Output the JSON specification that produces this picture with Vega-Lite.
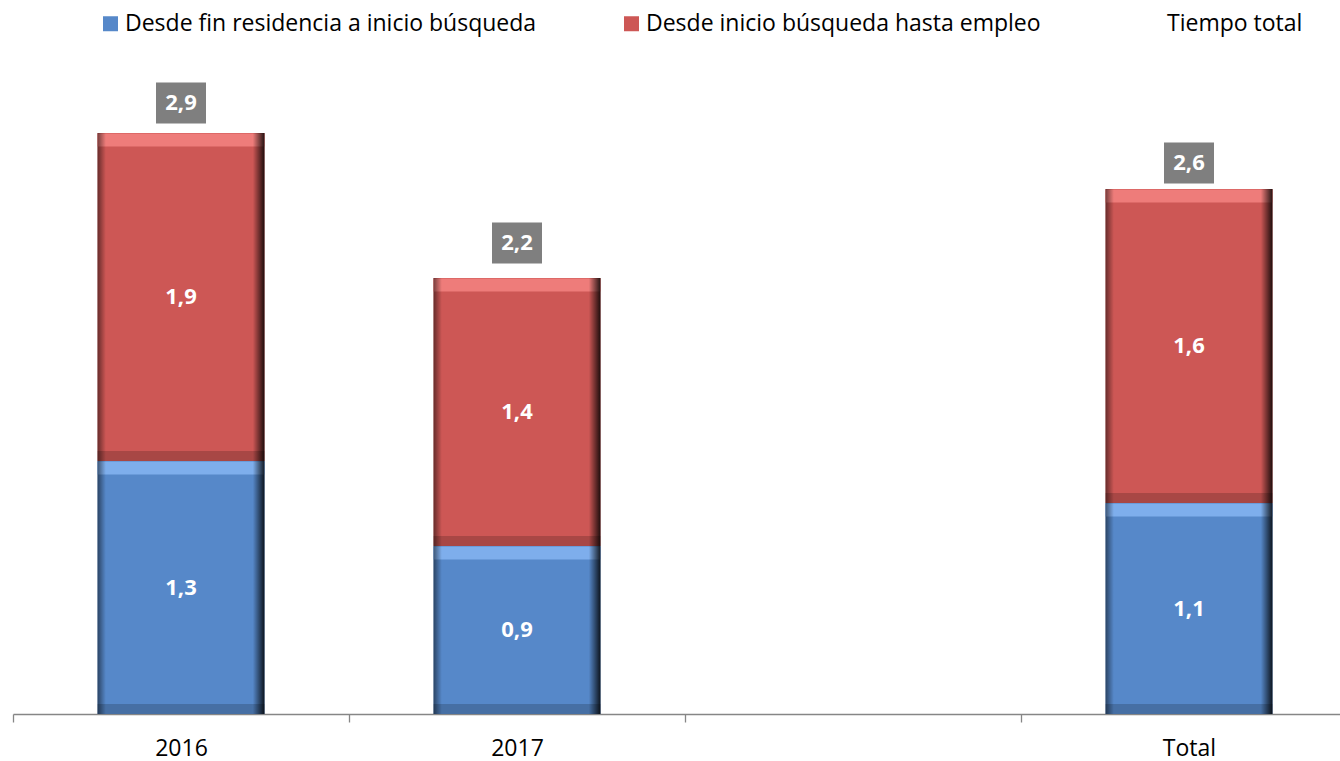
{
  "$schema": "https://vega.github.io/schema/vega-lite/v6.json",
  "width": 1327,
  "height": 640,
  "autosize": {"type": "none"},
  "padding": {"left": 13, "top": 74, "right": 0, "bottom": 47},
  "background": "#FFFFFF",
  "config": {
    "view": {"stroke": null},
    "font": "Open Sans",
    "legend": {
      "orient": "none",
      "legendX": 86,
      "legendY": -62,
      "direction": "horizontal",
      "columns": 3,
      "gridAlign": "all",
      "columnPadding": 83,
      "padding": 0,
      "symbolType": "square",
      "symbolSize": 225,
      "symbolStrokeWidth": 0,
      "symbolOpacity": 1,
      "labelFont": "Open Sans",
      "labelFontSize": 23,
      "labelColor": "#000000",
      "labelOffset": 3,
      "labelLimit": 600
    }
  },
  "datasets": {
    "tramos": [
      {"categoria": "2016", "serie": "Desde fin residencia a inicio búsqueda", "orden": 1, "valor": 1.265, "etiqueta": "1,3"},
      {"categoria": "2016", "serie": "Desde inicio búsqueda hasta empleo", "orden": 2, "valor": 1.64, "etiqueta": "1,9"},
      {"categoria": "2017", "serie": "Desde fin residencia a inicio búsqueda", "orden": 1, "valor": 0.84, "etiqueta": "0,9"},
      {"categoria": "2017", "serie": "Desde inicio búsqueda hasta empleo", "orden": 2, "valor": 1.34, "etiqueta": "1,4"},
      {"categoria": "Total", "serie": "Desde fin residencia a inicio búsqueda", "orden": 1, "valor": 1.055, "etiqueta": "1,1"},
      {"categoria": "Total", "serie": "Desde inicio búsqueda hasta empleo", "orden": 2, "valor": 1.57, "etiqueta": "1,6"}
    ],
    "totales": [
      {"categoria": "2016", "total": 2.9, "etiqueta": "2,9"},
      {"categoria": "2017", "total": 2.2, "etiqueta": "2,2"},
      {"categoria": "Total", "total": 2.6, "etiqueta": "2,6"}
    ]
  },
  "encoding": {
    "x": {
      "field": "categoria",
      "type": "nominal",
      "sort": null,
      "scale": {"domain": ["2016", "2017", " ", "Total"], "range": [0, 1344], "paddingInner": 0, "paddingOuter": 0},
      "axis": {
        "title": null,
        "labelAngle": 0,
        "labelFont": "Open Sans",
        "labelFontSize": 23,
        "labelColor": "#000000",
        "labelPadding": 15,
        "domainColor": "#868686",
        "domainWidth": 1.3,
        "tickColor": "#868686",
        "tickWidth": 1.3,
        "tickSize": 8,
        "tickBand": "extent",
        "grid": false
      }
    }
  },
  "layer": [
    {
      "data": {"name": "tramos"},
      "transform": [
        {"stack": "valor", "groupby": ["categoria"], "sort": [{"field": "orden", "order": "ascending"}], "as": ["y0", "y1"]}
      ],
      "layer": [
        {
          "mark": {"type": "bar", "width": 167},
          "encoding": {
            "y": {"field": "y1", "type": "quantitative", "scale": {"domain": [0, 3.2], "nice": false, "zero": true}, "axis": null},
            "y2": {"field": "y0"},
            "color": {
              "field": "serie",
              "type": "nominal",
              "scale": {
                "domain": ["Desde fin residencia a inicio búsqueda", "Desde inicio búsqueda hasta empleo", "Tiempo total"],
                "range": ["#5688C9", "#CD5755", "rgba(255,255,255,0)"]
              },
              "legend": {"title": null}
            }
          }
        },
        {
          "transform": [{"filter": "datum.orden == 1"}],
          "mark": {"type": "tick", "orient": "horizontal", "size": 167, "thickness": 13, "yOffset": 7, "color": "#7EAEEC", "opacity": 1},
          "encoding": {"y": {"field": "y1", "type": "quantitative"}}
        },
        {
          "transform": [{"filter": "datum.orden == 2"}],
          "mark": {"type": "tick", "orient": "horizontal", "size": 167, "thickness": 13, "yOffset": 7, "color": "#EE7C7A", "opacity": 1},
          "encoding": {"y": {"field": "y1", "type": "quantitative"}}
        },
        {
          "mark": {"type": "tick", "orient": "horizontal", "size": 167, "thickness": 10, "yOffset": -5, "color": "#000000", "opacity": 0.18},
          "encoding": {"y": {"field": "y0", "type": "quantitative"}}
        },
        {
          "mark": {
            "type": "bar",
            "width": 167,
            "fill": {
              "gradient": "linear",
              "x1": 0, "x2": 1, "y1": 0, "y2": 0,
              "stops": [
                {"offset": 0, "color": "rgba(0,0,0,0.5)"},
                {"offset": 0.05, "color": "rgba(0,0,0,0)"},
                {"offset": 0.93, "color": "rgba(0,0,0,0)"},
                {"offset": 1, "color": "rgba(0,0,0,0.85)"}
              ]
            }
          },
          "encoding": {
            "y": {"field": "y1", "type": "quantitative"},
            "y2": {"field": "y0"}
          }
        },
        {
          "transform": [
            {"fold": ["y0", "y1"], "as": ["borde", "pos"]},
            {"aggregate": [{"op": "mean", "field": "pos", "as": "medio"}], "groupby": ["categoria", "serie", "etiqueta"]}
          ],
          "mark": {"type": "text", "color": "#FFFFFF", "font": "Open Sans", "fontSize": 22, "fontWeight": "bold", "align": "center", "baseline": "middle"},
          "encoding": {
            "y": {"field": "medio", "type": "quantitative"},
            "text": {"field": "etiqueta"}
          }
        }
      ]
    },
    {
      "data": {"name": "totales"},
      "layer": [
        {
          "mark": {"type": "point", "shape": "M-25,-51.5H25V-10.5H-25Z", "size": 4, "filled": true, "fill": "#7F7F7F", "opacity": 1, "strokeWidth": 0},
          "encoding": {"y": {"field": "total", "type": "quantitative"}}
        },
        {
          "mark": {"type": "text", "color": "#FFFFFF", "font": "Open Sans", "fontSize": 22, "fontWeight": "bold", "align": "center", "baseline": "middle", "dy": -31},
          "encoding": {
            "y": {"field": "total", "type": "quantitative"},
            "text": {"field": "etiqueta"}
          }
        }
      ]
    }
  ]
}
